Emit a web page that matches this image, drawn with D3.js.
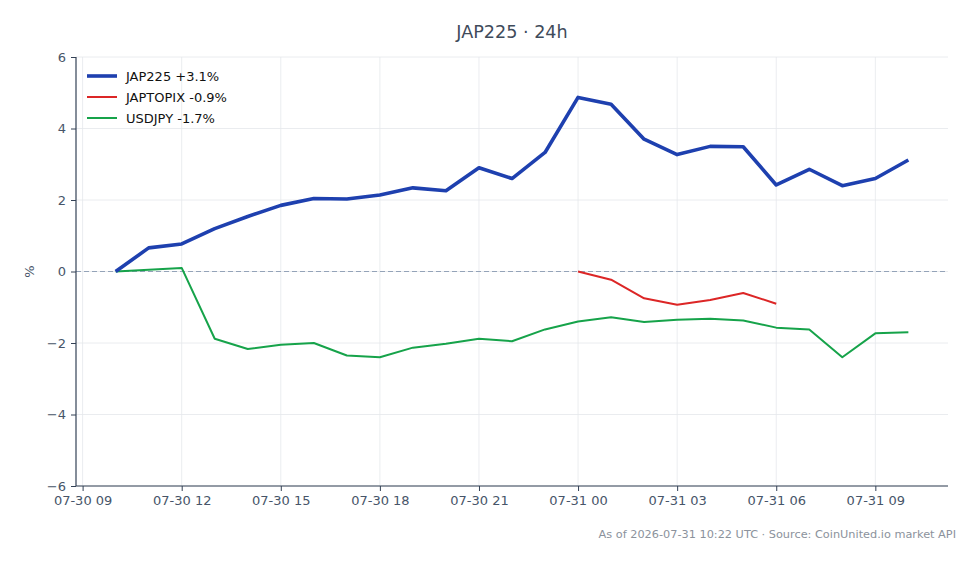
<!DOCTYPE html>
<html><head><meta charset="utf-8">
<script src="https://cdn.jsdelivr.net/npm/d3@7"></script>
<style>body{margin:0;background:#fff;} svg{display:block;font-family:"DejaVu Sans",sans-serif;}</style>
</head><body>
<svg id="c" width="980" height="564"></svg>
<script>
const startTime = "2026-07-30T10:00:00Z";
const jap225 = [0, 0.66, 0.77, 1.2, 1.54, 1.85, 2.04, 2.03, 2.14, 2.34, 2.26, 2.9, 2.6, 3.33, 4.87, 4.68, 3.7, 3.27, 3.5, 3.49, 2.42, 2.86, 2.4, 2.6, 3.12];
const japtopixStart = 14;
const japtopix = [0, -0.23, -0.75, -0.93, -0.8, -0.6, -0.9];
const usdjpy = [0, 0.05, 0.1, -1.88, -2.17, -2.05, -2.0, -2.35, -2.4, -2.13, -2.02, -1.88, -1.95, -1.62, -1.4, -1.28, -1.41, -1.35, -1.32, -1.37, -1.57, -1.62, -2.4, -1.73, -1.7];
const yTicks = [-6, -4, -2, 0, 2, 4, 6];
const xTickHours = [9, 12, 15, 18, 21, 24, 27, 30, 33];
const legendLabels = ["JAP225 +3.1%", "JAPTOPIX -0.9%", "USDJPY -1.7%"];
const colors = ["#1e40af", "#dc2626", "#16a34a"];
const widths = [3.6, 2, 2];

const svg = d3.select("#c");
const L = 76, R = 948, T = 57, B = 486;
const t0 = new Date(startTime);
const hr = 3600e3;
const tt = i => new Date(t0.getTime() + i * hr);
const x = d3.scaleUtc().domain([new Date(t0.getTime() - 1.2 * hr), new Date(t0.getTime() + 25.2 * hr)]).range([L, R]);
const y = d3.scaleLinear().domain([-6, 6]).range([B, T]);
const base = new Date("2026-07-30T00:00:00Z");
const xTicks = xTickHours.map(h => new Date(base.getTime() + h * hr));
const fmt = d3.utcFormat("%m-%d %H");

// grid
svg.append("g").selectAll("line").data(xTicks).join("line")
  .attr("x1", d => x(d)).attr("x2", d => x(d)).attr("y1", T).attr("y2", B)
  .attr("stroke", "#e5e7eb").attr("stroke-width", 0.8);
svg.append("g").selectAll("line").data(yTicks).join("line")
  .attr("x1", L).attr("x2", R).attr("y1", d => y(d)).attr("y2", d => y(d))
  .attr("stroke", "#e5e7eb").attr("stroke-width", 0.8);

// zero line
svg.append("line").attr("x1", L).attr("x2", R).attr("y1", y(0)).attr("y2", y(0))
  .attr("stroke", "#94a3b8").attr("stroke-width", 1.1).attr("stroke-dasharray", "5,3");

// axes
const xAxis = svg.append("g").attr("transform", `translate(0,${B})`)
  .call(d3.axisBottom(x).tickValues(xTicks).tickFormat(fmt).tickSize(5).tickPadding(5).tickSizeOuter(0));
const yAxis = svg.append("g").attr("transform", `translate(${L},0)`)
  .call(d3.axisLeft(y).tickValues(yTicks).tickFormat(d => d < 0 ? "\u2212" + Math.abs(d) : d).tickSize(5).tickPadding(5).tickSizeOuter(0));
[xAxis, yAxis].forEach(a => {
  a.select(".domain").attr("stroke", "#334155").attr("stroke-width", 1.2);
  a.selectAll(".tick line").attr("stroke", "#334155");
  a.selectAll(".tick text").attr("fill", "#475569").attr("font-size", 13).attr("font-family", "DejaVu Sans");
});
xAxis.select(".domain").attr("d", `M${L},0H${R}`);
yAxis.select(".domain").attr("d", `M0,${y(-6)}V${y(6)}`);

// lines
const line = d3.line().x(d => x(d.t)).y(d => y(d.v)).curve(d3.curveLinear);
const series = [
  jap225.map((v, i) => ({t: tt(i), v})),
  japtopix.map((v, i) => ({t: tt(i + japtopixStart), v})),
  usdjpy.map((v, i) => ({t: tt(i), v}))
];
[2, 1, 0].forEach(k => {
  svg.append("path").datum(series[k]).attr("d", line).attr("fill", "none")
    .attr("stroke", colors[k]).attr("stroke-width", widths[k]).attr("stroke-linejoin", "round").attr("stroke-linecap", "butt");
});

// legend
const lg = svg.append("g");
legendLabels.forEach((lab, k) => {
  const yy = 76 + k * 21;
  lg.append("line").attr("x1", 87).attr("x2", 117).attr("y1", yy).attr("y2", yy)
    .attr("stroke", colors[k]).attr("stroke-width", widths[k]);
  lg.append("text").attr("x", 126).attr("y", yy).attr("dy", "0.35em").attr("font-size", 13)
    .attr("fill", "#111").text(lab);
});

// title
svg.append("text").attr("x", 512).attr("y", 38).attr("text-anchor", "middle")
  .attr("font-size", 17.6).attr("fill", "#3f4b5b").text("JAP225 · 24h");
// y label
svg.append("text").attr("transform", `translate(34,${y(0)}) rotate(-90)`).attr("text-anchor", "middle")
  .attr("font-size", 13).attr("fill", "#475569").text("%");
// footer
svg.append("text").attr("x", 956).attr("y", 538).attr("text-anchor", "end")
  .attr("font-size", 11.3).attr("fill", "#8b929c").text("As of 2026-07-31 10:22 UTC · Source: CoinUnited.io market API");
</script>
</body></html>
